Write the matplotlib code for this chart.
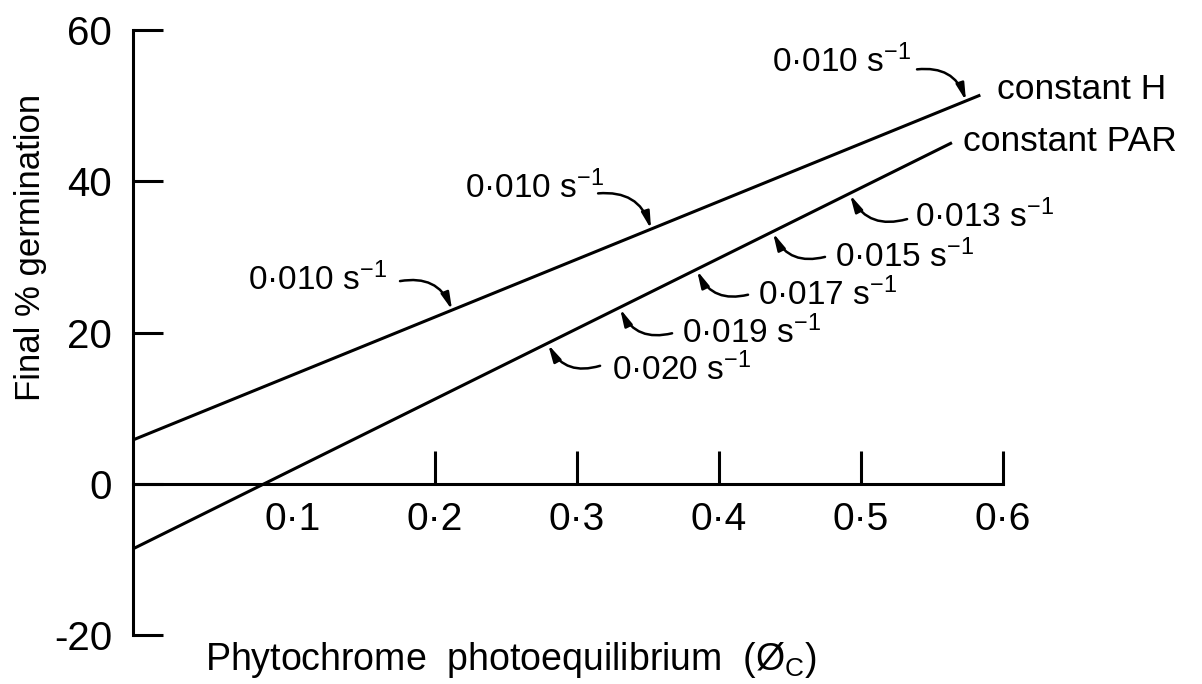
import numpy as np
import matplotlib
matplotlib.use("Agg")
from matplotlib import pyplot as plt

plt.rcParams['font.family'] = ['Liberation Sans', 'DejaVu Sans']
plt.rcParams['mathtext.fontset'] = 'custom'
plt.rcParams['mathtext.rm'] = 'Liberation Sans'
plt.rcParams['mathtext.default'] = 'regular'
plt.rcParams['axes.unicode_minus'] = False

# lines (phi_c, % germination)
h_x = [-0.0127, 0.584]
h_y = [5.8, 51.4]
par_x = [-0.0127, 0.564]
par_y = [-8.6, 45.1]

x_ticks = [0.1, 0.2, 0.3, 0.4, 0.5, 0.6]
x_tick_labels = ["0·1", "0·2", "0·3", "0·4", "0·5", "0·6"]
y_ticks = [-20, 0, 20, 40, 60]

# rate labels on the constant H line: text (x, y), arrow start (x, y), arrow tip x
h_rates = ["0·010 s$^{-1}$", "0·010 s$^{-1}$", "0·010 s$^{-1}$"]
h_text_x = [0.4373, 0.2211, 0.0683]
h_text_y = [55.8, 39.1, 26.9]
h_start_x = [0.5394, 0.3148, 0.1753]
h_start_y = [54.8, 38.4, 26.8]
h_tip_x = [0.5739, 0.3521, 0.2120]

# rate labels on the constant PAR line
par_rates = ["0·013 s$^{-1}$", "0·015 s$^{-1}$", "0·017 s$^{-1}$", "0·019 s$^{-1}$", "0·020 s$^{-1}$"]
par_text_x = [0.5380, 0.4817, 0.4275, 0.3739, 0.3246]
par_text_y = [35.3, 30.0, 25.0, 19.9, 15.0]
par_start_x = [0.5324, 0.4746, 0.4204, 0.3669, 0.3162]
par_start_y = [35.0, 30.0, 25.0, 19.9, 15.6]
par_tip_x = [0.4922, 0.4380, 0.3845, 0.3303, 0.2796]

fig = plt.figure(figsize=(12.02, 6.84), dpi=100)
ax = fig.add_axes([0.1107, 0.0716, 0.7238, 0.8845])
ax.set_xlim(-0.0127, 0.6)
ax.set_ylim(-20, 60)

lw = 2.2
ax.plot(h_x, h_y, color="black", lw=lw, solid_capstyle="butt", clip_on=False)
ax.plot(par_x, par_y, color="black", lw=lw, solid_capstyle="butt", clip_on=False)

for s in ["top", "right"]:
    ax.spines[s].set_visible(False)
ax.spines["left"].set_linewidth(lw)
ax.spines["bottom"].set_linewidth(lw)
ax.spines["bottom"].set_position(("data", 0))
ax.spines["bottom"].set_bounds(-0.0127, 0.6)

ax.set_xticks(x_ticks)
ax.set_xticklabels(x_tick_labels)
ax.set_yticks(y_ticks)
ax.tick_params(axis="x", direction="in", length=24, width=lw, pad=13, labelsize=28)
ax.tick_params(axis="y", direction="in", length=21.6, width=lw, pad=15, labelsize=29)
ax.xaxis.get_major_ticks()[0].tick1line.set_visible(False)

ax.text(-0.118, 0.64, "Final % germination", transform=ax.transAxes, rotation=90,
        ha="center", va="center", fontsize=25)
ax.text(0.4345, -0.058, "Phytochrome  photoequilibrium  (Ø$_{\\mathrm{C}}$)", transform=ax.transAxes,
        ha="center", va="baseline", fontsize=27)

ax.text(0.5958, 52.1, "constant H", fontsize=25.5, va="center", ha="left", clip_on=False)
ax.text(0.5718, 45.2, "constant PAR", fontsize=25.5, va="center", ha="left", clip_on=False)

arrow = dict(arrowstyle="-|>,head_length=0.5,head_width=0.12", color="black", lw=1.8,
             shrinkA=0, shrinkB=0, connectionstyle="arc3,rad=-0.4", mutation_scale=20)

for lab, tx, ty, sx, sy, px in zip(h_rates, h_text_x, h_text_y, h_start_x, h_start_y, h_tip_x):
    ax.text(tx, ty, lab, fontsize=24, va="center", ha="left")
    ax.annotate("", xy=(px, np.interp(px, h_x, h_y)), xytext=(sx, sy), arrowprops=arrow,
                annotation_clip=False)

for lab, tx, ty, sx, sy, px in zip(par_rates, par_text_x, par_text_y, par_start_x, par_start_y, par_tip_x):
    ax.text(tx, ty, lab, fontsize=24, va="center", ha="left")
    ax.annotate("", xy=(px, np.interp(px, par_x, par_y) - 0.2), xytext=(sx, sy), arrowprops=arrow,
                annotation_clip=False)

fig.savefig("out.png", dpi=100)
